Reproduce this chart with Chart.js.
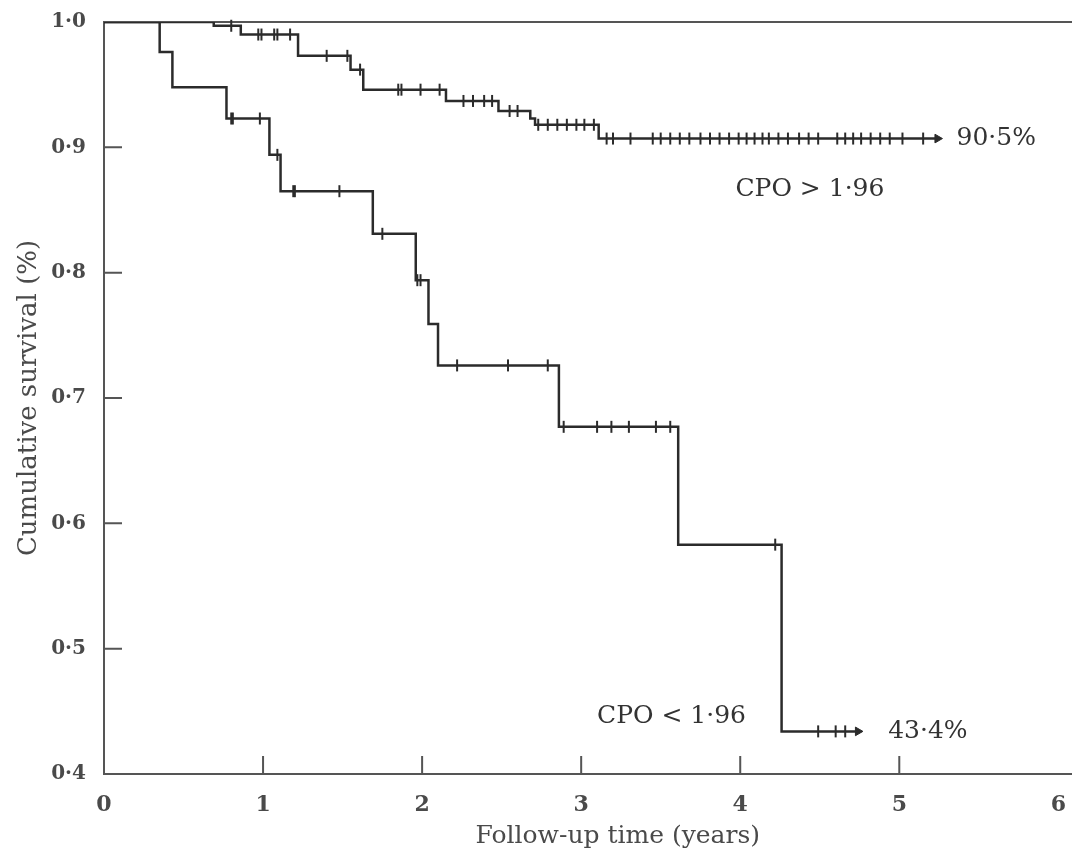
<!DOCTYPE html>
<html>
<head>
<meta charset="utf-8">
<script src="https://cdn.jsdelivr.net/npm/chart.js@4.4.1/dist/chart.umd.min.js"></script>
<style>
  html, body { margin: 0; padding: 0; background: #fff; overflow: hidden; width: 1072px; height: 851px; }
</style>
</head>
<body>
<canvas id="km" width="1076" height="851"></canvas>
<script>
// CPO > 1.96 group: step times (years) and survival after each step
const hiTimes = [0, 0.69, 0.86, 1.22, 1.55, 1.63, 2.15, 2.48, 2.68, 2.71, 3.11, 5.24];
const hiSurv = [1.0, 0.997, 0.990, 0.973, 0.962, 0.946, 0.937, 0.929, 0.923, 0.918, 0.907, 0.907];
const hiCensored = [0.80, 0.97, 0.99, 1.07, 1.09, 1.17, 1.40, 1.53, 1.61, 1.85, 1.87, 1.99, 2.11,
  2.26, 2.32, 2.39, 2.44, 2.55, 2.60, 2.73, 2.79, 2.85, 2.91, 2.97, 3.02, 3.08, 3.16, 3.20, 3.31,
  3.45, 3.50, 3.56, 3.62, 3.68, 3.75, 3.81, 3.87, 3.93, 3.99, 4.04, 4.09, 4.14, 4.18, 4.24, 4.30,
  4.37, 4.43, 4.49, 4.61, 4.66, 4.71, 4.76, 4.82, 4.88, 4.94, 5.02, 5.15];

// CPO < 1.96 group
const loTimes = [0, 0.35, 0.43, 0.77, 1.04, 1.11, 1.69, 1.96, 2.04, 2.10, 2.86, 3.61, 4.26, 4.74];
const loSurv = [1.0, 0.976, 0.948, 0.923, 0.894, 0.865, 0.831, 0.794, 0.759, 0.726, 0.677, 0.583, 0.434, 0.434];
const loCensored = [0.80, 0.81, 0.98, 1.09, 1.19, 1.20, 1.48, 1.75, 1.97, 1.99, 2.22, 2.54, 2.79,
  2.89, 3.10, 3.19, 3.30, 3.47, 3.56, 4.22, 4.49, 4.60, 4.66];

const xTicks = [0, 1, 2, 3, 4, 5, 6];
const yTicks = [0.4, 0.5, 0.6, 0.7, 0.8, 0.9, 1.0];

const notes = [
  { text: '90·5%', x: 5.36, y: 0.907 },
  { text: 'CPO > 1·96', x: 3.97, y: 0.866 },
  { text: 'CPO < 1·96', x: 3.10, y: 0.446 },
  { text: '43·4%', x: 4.93, y: 0.434 }
];
const xTitle = 'Follow-up time (years)';

const ink = '#2b2b2b';
const grey = '#4a4a4a';

function survAt(times, surv, t) {
  let s = surv[0];
  for (let i = 0; i < times.length; i++) {
    if (times[i] <= t) s = surv[i];
  }
  return s;
}

const curve = (times, surv) => times.map((t, i) => ({ x: t, y: surv[i] }));
const marks = (cens, times, surv) => cens.map(t => ({ x: t, y: survAt(times, surv, t) }));
const lastPoint = (times, surv) => [{ x: times[times.length - 1], y: surv[surv.length - 1] }];

const framePlugin = {
  id: 'frame',
  beforeDatasetsDraw(chart) {
    const { ctx, chartArea: a, scales: { x, y } } = chart;
    ctx.save();
    ctx.strokeStyle = '#555';
    ctx.lineWidth = 2;
    ctx.beginPath();
    ctx.moveTo(chart.width, a.top);
    ctx.lineTo(a.left, a.top);
    ctx.lineTo(a.left, a.bottom);
    ctx.lineTo(chart.width, a.bottom);
    yTicks.slice(1, -1).forEach(v => {
      const py = y.getPixelForValue(v);
      ctx.moveTo(a.left, py);
      ctx.lineTo(a.left + 18, py);
    });
    xTicks.slice(1, -1).forEach(v => {
      const px = x.getPixelForValue(v);
      ctx.moveTo(px, a.bottom);
      ctx.lineTo(px, a.bottom - 18);
    });
    ctx.stroke();
    ctx.restore();
  },
  afterDatasetsDraw(chart) {
    const { ctx, scales: { x, y } } = chart;
    ctx.save();
    ctx.fillStyle = '#333';
    ctx.font = '25px "DejaVu Serif"';
    ctx.textBaseline = 'middle';
    ctx.textAlign = 'left';
    notes.forEach(n => ctx.fillText(n.text, x.getPixelForValue(n.x), y.getPixelForValue(n.y)));
    // x axis title, sits a little right of the axis centre in the original
    ctx.fillStyle = grey;
    ctx.font = '25px "DejaVu Serif"';
    ctx.textAlign = 'center';
    ctx.fillText(xTitle, x.getPixelForValue(3.23), 836);
    ctx.restore();
  }
};

Chart.defaults.font.family = '"DejaVu Serif", serif';
Chart.defaults.color = '#333';

new Chart(document.getElementById('km'), {
  type: 'line',
  data: {
    datasets: [
      { data: curve(hiTimes, hiSurv), stepped: true, borderColor: ink, borderWidth: 2.5, pointRadius: 0 },
      { data: curve(loTimes, loSurv), stepped: true, borderColor: ink, borderWidth: 2.5, pointRadius: 0 },
      { data: marks(hiCensored, hiTimes, hiSurv), showLine: false, pointStyle: 'line', rotation: 90,
        pointRadius: 6, borderColor: ink, pointBorderWidth: 2, clip: false },
      { data: marks(loCensored, loTimes, loSurv), showLine: false, pointStyle: 'line', rotation: 90,
        pointRadius: 6, borderColor: ink, pointBorderWidth: 2, clip: false },
      { data: lastPoint(hiTimes, hiSurv).concat(lastPoint(loTimes, loSurv)), showLine: false,
        pointStyle: 'triangle', rotation: 90, pointRadius: 5, backgroundColor: ink, borderColor: ink, clip: false }
    ]
  },
  options: {
    responsive: false,
    animation: false,
    layout: { padding: { top: 18, right: 2, left: 0, bottom: 0 } },
    plugins: { legend: { display: false }, tooltip: { enabled: false } },
    scales: {
      x: {
        type: 'linear', min: 0, max: 6,
        grid: { display: false },
        border: { display: false },
        afterFit: s => { s.height = 77; },
        afterBuildTicks: s => { s.ticks = xTicks.map(v => ({ value: v })); },
        ticks: { autoSkip: false, padding: 10, color: grey, font: { size: 22, weight: 'bold' },
          callback: v => String(v) }
      },
      y: {
        min: 0.4, max: 1.0,
        grid: { display: false },
        border: { display: false },
        afterFit: s => { s.width = 104; },
        afterBuildTicks: s => { s.ticks = yTicks.map(v => ({ value: v })); },
        ticks: { autoSkip: false, padding: 10, color: grey, font: { size: 20, weight: 'bold' },
          callback: v => v.toFixed(1).replace('.', '·') },
        title: { display: true, text: 'Cumulative survival (%)', color: grey, font: { size: 26 },
          padding: { top: 14 } }
      }
    }
  },
  plugins: [framePlugin]
});
</script>
</body>
</html>
